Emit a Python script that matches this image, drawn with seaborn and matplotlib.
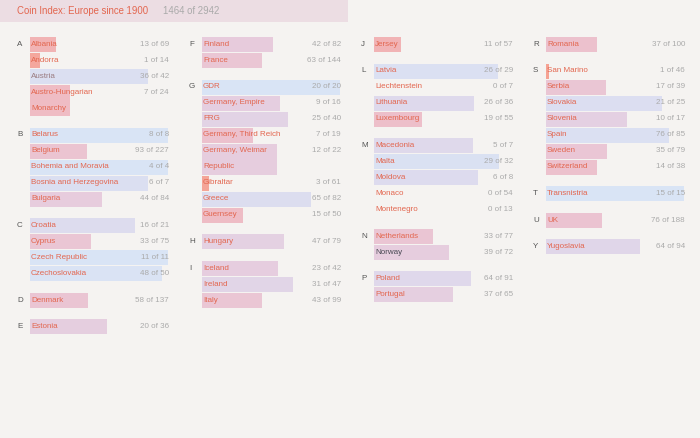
import matplotlib
matplotlib.use("Agg")
import matplotlib.pyplot as plt
import seaborn as sns

# Data: country, group letter, coins owned, coins in catalogue, column of the page
countries = ["Albania", "Andorra", "Austria", "Austro-Hungarian\nMonarchy",
             "Belarus", "Belgium", "Bohemia and Moravia", "Bosnia and Herzegovina", "Bulgaria",
             "Croatia", "Cyprus", "Czech Republic", "Czechoslovakia",
             "Denmark", "Estonia",
             "Finland", "France",
             "GDR", "Germany, Empire", "FRG", "Germany, Third Reich", "Germany, Weimar\nRepublic",
             "Gibraltar", "Greece", "Guernsey",
             "Hungary", "Iceland", "Ireland", "Italy",
             "Jersey",
             "Latvia", "Liechtenstein", "Lithuania", "Luxembourg",
             "Macedonia", "Malta", "Moldova", "Monaco", "Montenegro",
             "Netherlands", "Norway", "Poland", "Portugal",
             "Romania",
             "San Marino", "Serbia", "Slovakia", "Slovenia", "Spain", "Sweden", "Switzerland",
             "Transnistria", "UK", "Yugoslavia"]
letters = ["A", "A", "A", "A",
           "B", "B", "B", "B", "B",
           "C", "C", "C", "C",
           "D", "E",
           "F", "F",
           "G", "G", "G", "G", "G", "G", "G", "G",
           "H", "I", "I", "I",
           "J",
           "L", "L", "L", "L",
           "M", "M", "M", "M", "M",
           "N", "N", "P", "P",
           "R",
           "S", "S", "S", "S", "S", "S", "S",
           "T", "U", "Y"]
have = [13, 1, 36, 7,
        8, 93, 4, 6, 44,
        16, 33, 11, 48,
        58, 20,
        42, 63,
        20, 9, 25, 7, 12, 3, 65, 15,
        47, 23, 31, 43,
        11,
        26, 0, 26, 19,
        5, 29, 6, 0, 0,
        33, 39, 64, 37,
        37,
        1, 17, 21, 10, 76, 35, 14,
        15, 76, 64]
total = [69, 14, 42, 24,
         8, 227, 4, 7, 84,
         21, 75, 11, 50,
         137, 36,
         82, 144,
         20, 16, 40, 19, 22, 61, 82, 50,
         79, 42, 47, 99,
         57,
         29, 7, 36, 55,
         7, 32, 8, 54, 13,
         77, 72, 91, 65,
         100,
         46, 39, 25, 17, 85, 79, 38,
         15, 188, 94]
column_starts = ["A", "F", "J", "R"]
title = "Coin Index: Europe since 1900"
summary = "1464 of 2942"

# Style
sns.set_theme(style="white")
plt.rcParams["font.family"] = ["Liberation Sans", "DejaVu Sans"]

bg = "#f5f3f1"
red_text = "#e3664f"
count_grey = "#aaaaaa"
letter_grey = "#555555"
special_text = {"Austria": "#9a7b80", "Norway": "#4a4a55"}
cmap = sns.blend_palette(["#f5a08f", "#f0b9c0", "#e8cadb", "#dddbee", "#d9e4f5"], as_cmap=True)

# Layout in pixels
col_step = 172
letter_x = 17
name_x = 31
bar_x = 30
bar_w = 138
top_y = 44.5
row_h = 16
group_gap = 10.5
fs = 5.8

fig = plt.figure(figsize=(7, 4.38), dpi=100, facecolor=bg)
ax = fig.add_axes([0, 0, 1, 1])
ax.set_facecolor(bg)
ax.set_xlim(0, 700)
ax.set_ylim(438, 0)
ax.axis("off")

# title bar
ax.barh(11, 348, height=22, left=0, color="#ecdde3", linewidth=0, zorder=1)
ax.text(17, 11, title, color=red_text, fontsize=6.9, va="center", ha="left", zorder=3)
ax.text(163, 11, summary, color=count_grey, fontsize=6.9, va="center", ha="left", zorder=3)

col = -1
y = top_y
prev_letter = None
for name, let, h, t in zip(countries, letters, have, total):
    if let in column_starts and let != prev_letter:
        col = column_starts.index(let)
        y = top_y
    elif let != prev_letter and prev_letter is not None:
        y += group_gap
    off = col * col_step
    lines = name.count("\n") + 1
    frac = h / t
    bar_center = y + (lines - 1) * row_h / 2
    if h > 0:
        ax.barh(bar_center, frac * bar_w, height=row_h * lines - 1, left=bar_x + off,
                color=cmap(frac), linewidth=0, zorder=2)
    if let != prev_letter:
        ax.text(letter_x + off, y, let, color=letter_grey, fontsize=fs, va="center", ha="left", zorder=3)
    for i, part in enumerate(name.split("\n")):
        ax.text(name_x + off, y + i * row_h, part, color=special_text.get(name, red_text),
                fontsize=fs, va="center", ha="left", zorder=3)
    ax.text(bar_x + bar_w + 1 + off, y, f"{h} of {t}", color=count_grey, fontsize=fs,
            va="center", ha="right", zorder=3)
    y += row_h * lines
    prev_letter = let

fig.savefig("out.png", dpi=100, facecolor=bg)
